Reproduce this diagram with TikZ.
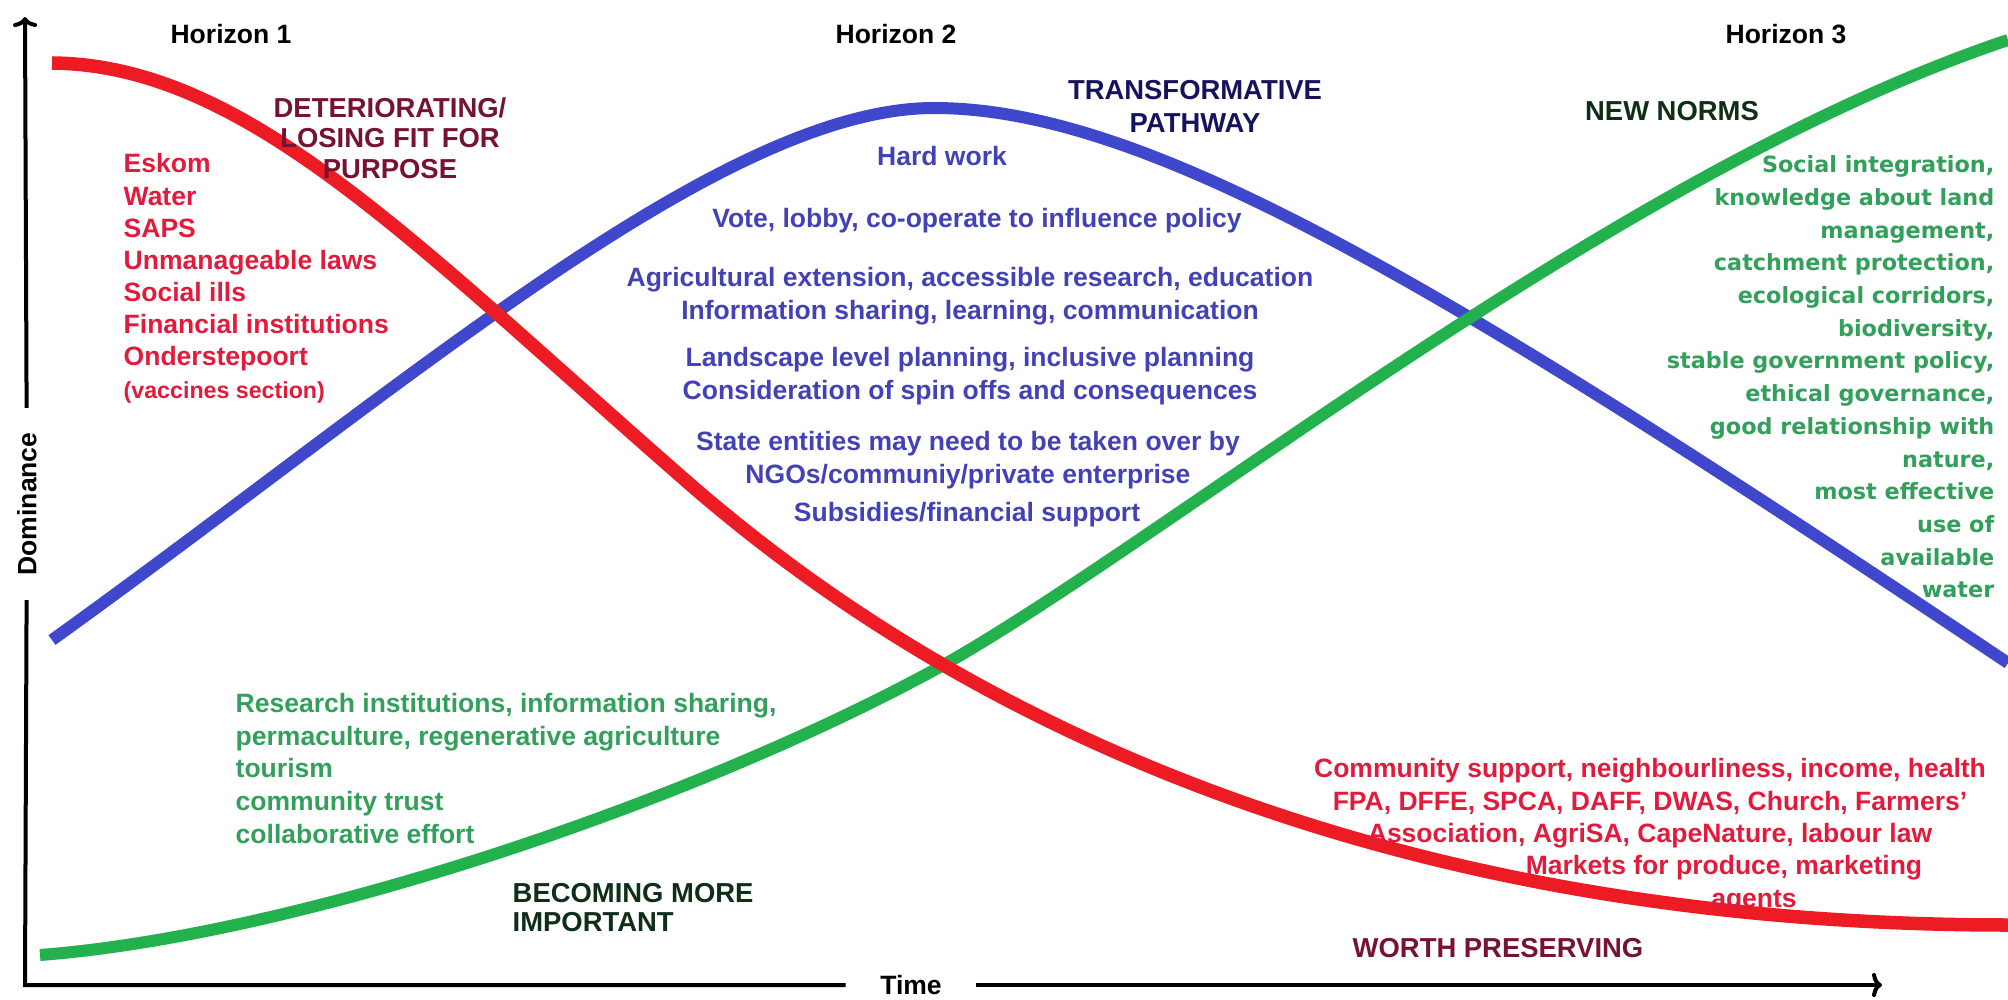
\documentclass[tikz,border=0pt]{standalone}
\usepackage{fontspec}
\setmainfont{Liberation Sans}
\newfontfamily\normsfont{DejaVu Sans}
\usetikzlibrary{arrows.meta}
\definecolor{redline}{HTML}{ED1C24}
\definecolor{blueline}{HTML}{3F48CC}
\definecolor{greenline}{HTML}{22B14C}
\definecolor{redtxt}{HTML}{E21B3C}
\definecolor{bluetxt}{HTML}{4242B6}
\definecolor{greentxt}{HTML}{32A05A}
\definecolor{darkred}{HTML}{761232}
\definecolor{darkblue}{HTML}{14145C}
\definecolor{darkgreen}{HTML}{0E2E16}

\begin{document}
\begin{tikzpicture}[x=0.01cm,y=-0.01cm,
  item/.style={inner sep=0pt,font=\fontsize{7.54}{9.25}\selectfont\bfseries,align=center},
  head/.style={inner sep=0pt,font=\fontsize{7.8}{8.6}\selectfont\bfseries,align=center},
  normlist/.style={inner sep=0pt,font=\fontsize{6.35}{9.3}\selectfont\normsfont\bfseries,align=right,text=greentxt},
  axis/.style={line width=0.04cm},
  axtip/.style={-{To[width=2.4mm,length=1mm]}},
  hone/.style={line width=0.135cm,redline},
  htwo/.style={line width=0.12cm,blueline},
  hthree/.style={line width=0.12cm,greenline}]
\useasboundingbox (0,0) rectangle (2008,1000);

\draw[htwo] (52,640) .. controls (400,390) and (720,108) .. (934,108)
  .. controls (1150,108) and (1450,290) .. (2008,663);
\draw[hthree] (40,955) .. controls (300,935) and (700,800) .. (947,663)
  .. controls (1180,530) and (1620,170) .. (2008,40);
\draw[hone] (52,63) .. controls (250,65) and (420,250) .. (700,493)
  .. controls (850,620) and (1250,925) .. (2008,925);

\coordinate (orig) at (25,985);
\coordinate (ytop) at (25,17);
\coordinate (xend) at (1882,985);
\node[item,rotate=90,inner xsep=0.24cm] (dom) at (27,504) {Dominance};
\node[item,inner xsep=0.34cm] (time) at (911,985) {Time};
\draw[axis] (dom) -- (orig) -- (time);
\draw[axis,axtip] (dom) -- (ytop);
\draw[axis,axtip] (time) -- (xend);

\node[item] (h1) at (231,34) {Horizon 1};
\node[item] (h2) at (896,34) {Horizon 2};
\node[item] (h3) at (1786,34) {Horizon 3};

\node[head,text=darkred,anchor=north] (losing) at (390,97) {DETERIORATING/\\LOSING FIT FOR\\PURPOSE};
\node[item,text=redtxt,anchor=north west,align=left,font=\fontsize{7.54}{9.15}\selectfont\bfseries] (old) at (123,153) {Eskom\\Water\\SAPS\\Unmanageable laws\\Social ills\\Financial institutions\\Onderstepoort\\{\fontsize{6.6}{8}\selectfont(vaccines section)}};

\node[head,text=darkblue,anchor=north,font=\fontsize{7.8}{9.2}\selectfont\bfseries] (path) at (1195,80) {TRANSFORMATIVE\\PATHWAY};
\node[item,text=bluetxt] (hard) at (942,156) {Hard work};
\node[item,text=bluetxt] (vote) at (977,221) {Vote, lobby, co-operate to influence policy};
\node[item,text=bluetxt,anchor=north] (ext) at (970,267) {Agricultural extension, accessible research, education\\Information sharing, learning, communication};
\node[item,text=bluetxt,anchor=north] (plan) at (970,347) {Landscape level planning, inclusive planning\\Consideration of spin offs and consequences};
\node[item,text=bluetxt,anchor=north] (state) at (968,431) {State entities may need to be taken over by\\NGOs/communiy/private enterprise};
\node[item,text=bluetxt] (subs) at (967,515) {Subsidies/financial support};

\node[head,text=darkgreen] (norms) at (1672,111) {NEW NORMS};
\node[normlist,anchor=north east] (newlist) at (1995,155) {Social integration,\\knowledge about land\\management,\\catchment protection,\\ecological corridors,\\biodiversity,\\stable government policy,\\ethical governance,\\good relationship with\\nature,\\most effective\\use of\\available\\water};

\node[item,text=greentxt,anchor=north west,align=left] (grow) at (235,693) {Research institutions, information sharing,\\permaculture, regenerative agriculture\\tourism\\community trust\\collaborative effort};
\node[head,text=darkgreen,anchor=north west,align=left,font=\fontsize{7.8}{8.25}\selectfont\bfseries] (becoming) at (512,883) {BECOMING MORE\\IMPORTANT};

\node[item,text=redtxt,anchor=north] (keep) at (1650,758) {Community support, neighbourliness, income, health\\FPA, DFFE, SPCA, DAFF, DWAS, Church, Farmers'\\Association, AgriSA, CapeNature, labour law};
\node[item,text=redtxt] (mkt) at (1724,868) {Markets for produce, marketing};
\node[item,text=redtxt] (agents) at (1754,902) {agents};
\node[head,text=darkred] (worth) at (1498,948) {WORTH PRESERVING};
\end{tikzpicture}
\end{document}
